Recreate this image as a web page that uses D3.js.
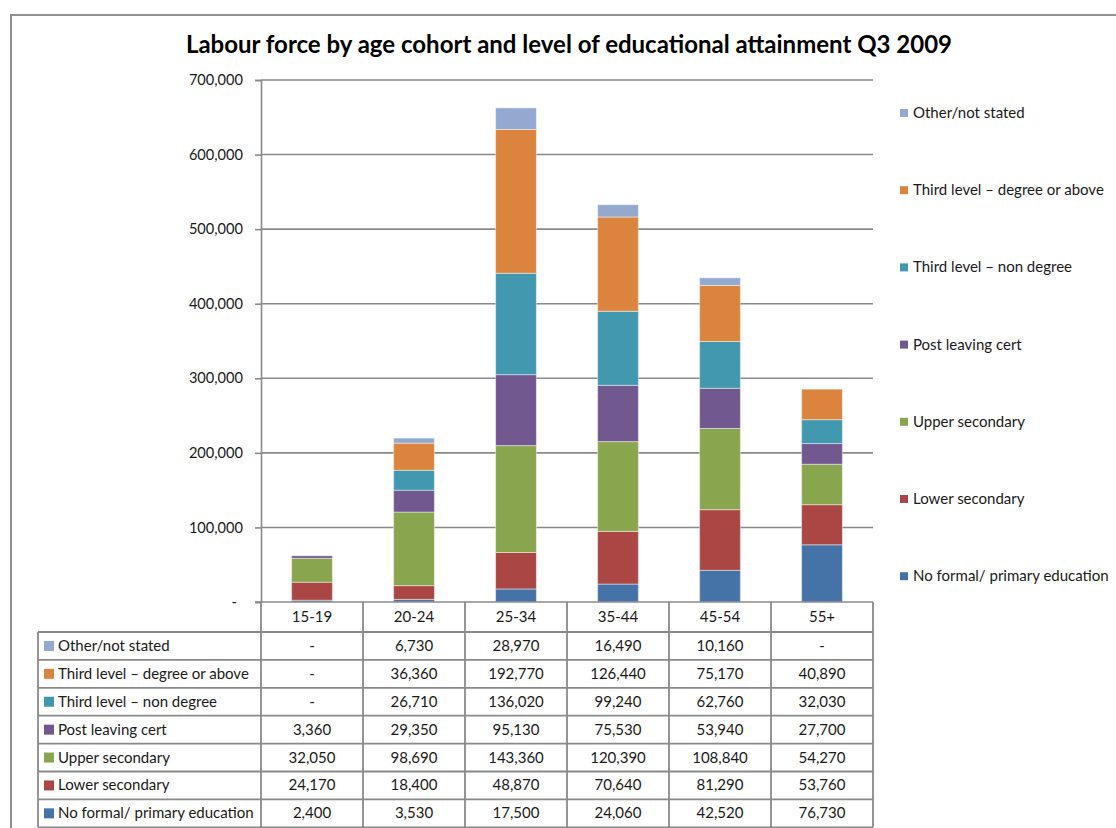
<!DOCTYPE html>
<html>
<head>
<meta charset="utf-8">
<script src="https://cdn.jsdelivr.net/npm/d3@7"></script>
<style>
  html, body { margin: 0; padding: 0; background: #fff; }
  svg { display: block; font-family: Lato, "Open Sans", sans-serif; }
</style>
</head>
<body>
<svg id="chart" width="1116" height="828"></svg>
<script>
// Age cohorts along the x axis
const categories = ["15-19", "20-24", "25-34", "35-44", "45-54", "55+"];

// Education levels, listed from the bottom of each stack upwards
const seriesNames = [
  "No formal/ primary education",
  "Lower secondary",
  "Upper secondary",
  "Post leaving cert",
  "Third level \u2013 non degree",
  "Third level \u2013 degree or above",
  "Other/not stated"
];

// Persons in the labour force (null = not shown, printed as "-")
const noFormal        = [2400, 3530, 17500, 24060, 42520, 76730];
const lowerSecondary  = [24170, 18400, 48870, 70640, 81290, 53760];
const upperSecondary  = [32050, 98690, 143360, 120390, 108840, 54270];
const postLeavingCert = [3360, 29350, 95130, 75530, 53940, 27700];
const thirdNonDegree  = [null, 26710, 136020, 99240, 62760, 32030];
const thirdDegree     = [null, 36360, 192770, 126440, 75170, 40890];
const otherNotStated  = [null, 6730, 28970, 16490, 10160, null];

const seriesColors = ["#4572A7", "#AA4643", "#89A54E", "#71588F", "#4198AF", "#DB843D", "#93A9CF"];

const yTicks = [0, 100000, 200000, 300000, 400000, 500000, 600000, 700000];

const seriesValues = [noFormal, lowerSecondary, upperSecondary, postLeavingCert,
                      thirdNonDegree, thirdDegree, otherNotStated];

// rows for the stack layout
const rows = categories.map((c, i) => {
  const r = { cohort: c };
  seriesNames.forEach((s, k) => { r[s] = seriesValues[k][i] || 0; });
  return r;
});

const svg = d3.select("#chart");
const gridColor = "#8a8a8a";
const textColor = "#1a1a1a";
const bodySize = 15;

// outer chart frame
svg.append("rect")
  .attr("x", 11).attr("y", 15).attr("width", 1130).attr("height", 840)
  .attr("fill", "none").attr("stroke", "#8f8f8f").attr("stroke-width", 2);

// title
svg.append("text")
  .attr("x", 569).attr("y", 53)
  .attr("text-anchor", "middle")
  .attr("font-weight", "bold").attr("font-size", 24)
  .attr("fill", "#000")
  .text("Labour force by age cohort and level of educational attainment Q3 2009");

const plot = { left: 261, right: 873, top: 80, bottom: 602 };

const x = d3.scaleBand()
  .domain(categories)
  .range([plot.left, plot.right])
  .paddingInner(0.6).paddingOuter(0.3);

const y = d3.scaleLinear()
  .domain([0, 700000])
  .range([plot.bottom, plot.top]);

// horizontal gridlines
svg.append("g")
  .selectAll("line")
  .data(yTicks.slice(1))
  .join("line")
  .attr("x1", plot.left).attr("x2", plot.right)
  .attr("y1", d => y(d)).attr("y2", d => y(d))
  .attr("stroke", gridColor).attr("stroke-width", 1.6);

// y axis
const yAxis = d3.axisLeft(y)
  .tickValues(yTicks)
  .tickSize(6)
  .tickPadding(12)
  .tickFormat(d => d === 0 ? "-" : d3.format(",")(d));

const yg = svg.append("g")
  .attr("transform", `translate(${plot.left},0)`)
  .call(yAxis);
yg.select(".domain").attr("stroke", gridColor).attr("stroke-width", 1.6);
yg.selectAll(".tick line").attr("stroke", gridColor).attr("stroke-width", 1.6);
yg.selectAll(".tick text")
  .attr("font-family", "Lato, sans-serif")
  .attr("font-size", 14.6).attr("fill", textColor);
yg.selectAll(".tick").filter(d => d === 0).select("text").attr("dx", -6);

// stacked bars
const stack = d3.stack().keys(seriesNames);
const layers = stack(rows);

svg.append("g")
  .selectAll("g")
  .data(layers)
  .join("g")
  .attr("fill", (d, i) => seriesColors[i])
  .selectAll("rect")
  .data(d => d.filter(p => p[1] > p[0]))
  .join("rect")
  .attr("x", d => x(d.data.cohort))
  .attr("width", x.bandwidth())
  .attr("y", d => y(d[1]))
  .attr("height", d => y(d[0]) - y(d[1]))
  .attr("stroke", "rgba(255,255,255,0.45)")
  .attr("stroke-width", 1);

// data table below the plot
const step = x.step();
const headerBottom = 632;
const rowH = 27.9;
const labelLeft = 38;
const tableRows = seriesNames.slice().reverse();
const tableColors = seriesColors.slice().reverse();
const tableValues = seriesValues.slice().reverse();
const tableBottom = headerBottom + rowH * tableRows.length;

const tbl = svg.append("g");

// horizontal axis line / header top
tbl.append("line")
  .attr("x1", plot.left - 6).attr("x2", plot.right)
  .attr("y1", plot.bottom).attr("y2", plot.bottom)
  .attr("stroke", gridColor).attr("stroke-width", 1.6);

// row separators
tbl.selectAll("line.row")
  .data(d3.range(tableRows.length + 1))
  .join("line")
  .attr("class", "row")
  .attr("x1", labelLeft).attr("x2", plot.right)
  .attr("y1", i => headerBottom + i * rowH).attr("y2", i => headerBottom + i * rowH)
  .attr("stroke", gridColor).attr("stroke-width", 1.8);

// vertical cell borders for the cohort columns
tbl.selectAll("line.col")
  .data(d3.range(categories.length + 1))
  .join("line")
  .attr("class", "col")
  .attr("x1", i => plot.left + i * step).attr("x2", i => plot.left + i * step)
  .attr("y1", plot.bottom).attr("y2", tableBottom)
  .attr("stroke", gridColor).attr("stroke-width", 1.8);

// left edge of the label column
tbl.append("line")
  .attr("x1", labelLeft).attr("x2", labelLeft)
  .attr("y1", headerBottom).attr("y2", tableBottom)
  .attr("stroke", gridColor).attr("stroke-width", 1.8);

// cohort headers
tbl.selectAll("text.head")
  .data(categories)
  .join("text")
  .attr("class", "head")
  .attr("x", d => x(d) + x.bandwidth() / 2)
  .attr("y", (plot.bottom + headerBottom) / 2 + 5)
  .attr("text-anchor", "middle")
  .attr("font-size", bodySize).attr("fill", textColor)
  .text(d => d);

// series labels with colour keys
const labelRows = tbl.selectAll("g.lab")
  .data(tableRows)
  .join("g")
  .attr("class", "lab")
  .attr("transform", (d, i) => `translate(0,${headerBottom + i * rowH + rowH / 2})`);

labelRows.append("rect")
  .attr("x", 44).attr("y", -5).attr("width", 10).attr("height", 10)
  .attr("fill", (d, i) => tableColors[i]);

labelRows.append("text")
  .attr("x", 58).attr("y", 5)
  .attr("font-size", bodySize).attr("fill", textColor)
  .text(d => d);

// cell values
const fmt = d3.format(",");
tableValues.forEach((vals, r) => {
  tbl.append("g")
    .selectAll("text")
    .data(vals)
    .join("text")
    .attr("x", (v, i) => x(categories[i]) + x.bandwidth() / 2)
    .attr("y", headerBottom + r * rowH + rowH / 2 + 5)
    .attr("text-anchor", "middle")
    .attr("font-size", bodySize).attr("fill", textColor)
    .text(v => v == null ? "-" : fmt(v));
});

// legend at right, top item = top of stack
const legendItems = seriesNames.slice().reverse();
const legendColors = seriesColors.slice().reverse();
const legend = svg.append("g")
  .selectAll("g")
  .data(legendItems)
  .join("g")
  .attr("transform", (d, i) => `translate(900,${113 + i * 77.2})`);

legend.append("rect")
  .attr("x", 0).attr("y", -4).attr("width", 8).attr("height", 8)
  .attr("fill", (d, i) => legendColors[i]);

legend.append("text")
  .attr("x", 13).attr("y", 5)
  .attr("font-size", bodySize).attr("fill", textColor)
  .text(d => d);
</script>
</body>
</html>
